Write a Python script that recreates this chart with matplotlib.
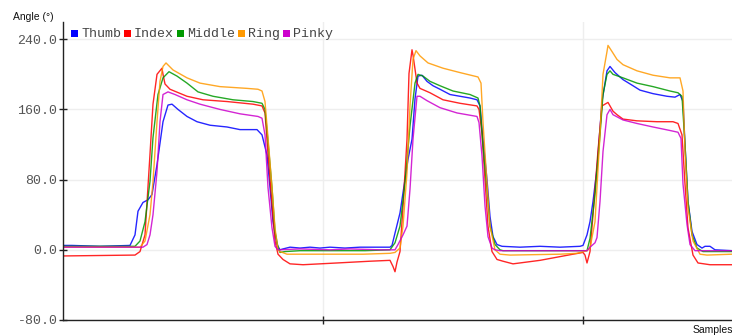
import matplotlib
matplotlib.use("Agg")
import matplotlib.pyplot as plt
from matplotlib.patches import Rectangle

# Finger bend angles (sample index, angle in degrees)
names = ["Thumb", "Index", "Middle", "Ring", "Pinky"]
colors = ["#0000ff", "#ff0000", "#009900", "#ff9900", "#cc00cc"]

thumb_x = [0, 9, 37, 67, 72, 75, 80, 85, 89, 94, 100, 105, 109, 115, 124, 134, 147, 164, 177, 194,
           199, 204, 207, 210, 214, 217, 220, 227, 237, 247, 257, 267, 282, 297, 312, 327,
           329, 332, 337, 340, 345, 349, 352, 355, 359, 364, 370, 377, 387, 397, 407, 414,
           417, 420, 424, 427, 430, 434, 439, 457, 477, 497, 517, 520, 524, 527, 530, 534,
           539, 544, 547, 552, 560, 570, 577, 590, 604, 612, 617, 620, 622, 625, 629, 634,
           639, 642, 647, 652, 669]
thumb_y = [5, 5, 4, 5, 17, 44, 54, 57, 63, 97, 146, 165, 166, 160, 152, 146, 142, 140, 137, 137,
           131, 108, 71, 32, 6, 0, 1, 3, 2, 3, 2, 3, 2, 3, 3, 3,
           5, 19, 42, 65, 103, 126, 172, 198, 199, 192, 187, 183, 177, 175, 173, 171,
           164, 126, 80, 38, 15, 6, 4, 3, 4, 3, 4, 5, 17, 32, 55, 93,
           169, 204, 209, 202, 194, 187, 182, 178, 175, 174, 177, 169, 120, 55, 21, 6,
           2, 4, 4, 0, -1]

index_x = [0, 72, 77, 82, 87, 90, 94, 99, 100, 102, 107, 124, 140, 164, 190, 199, 202, 205, 209,
           212, 215, 220, 227, 240, 274, 307, 327, 330, 332, 334, 337, 340, 344, 346, 349,
           350, 354, 357, 367, 380, 397, 414, 416, 419, 422, 425, 429, 434, 440, 450, 477,
           510, 520, 522, 524, 527, 530, 535, 539, 545, 550, 554, 560, 574, 594, 610, 615,
           619, 622, 625, 630, 635, 647, 669]
index_y = [-7, -6, -2, 17, 109, 166, 200, 207, 200, 189, 183, 175, 171, 169, 166, 164, 156, 109, 52,
           10, -5, -11, -16, -17, -15, -13, -12, -19, -25, -14, -2, 49, 126, 201, 228,
           222, 190, 184, 179, 171, 167, 164, 160, 133, 80, 27, -2, -11, -13, -16, -12,
           -5, -3, -6, -15, -2, 40, 113, 164, 168, 158, 154, 149, 147, 146, 146, 144,
           131, 75, 25, -6, -15, -17, -17]

middle_x = [0, 72, 77, 82, 87, 90, 95, 100, 106, 114, 124, 135, 150, 170, 190, 199, 202, 205, 209,
            212, 215, 217, 222, 237, 302, 327, 332, 337, 342, 347, 352, 355, 360, 367, 377,
            390, 407, 415, 417, 420, 424, 427, 432, 437, 440, 517, 524, 527, 532, 537, 540,
            544, 547, 550, 560, 574, 590, 607, 615, 619, 622, 625, 629, 634, 640, 669]
middle_y = [4, 4, 10, 32, 78, 128, 177, 196, 203, 198, 190, 180, 175, 171, 169, 167, 160, 124, 71,
            21, 3, -3, -2, -1, -1, 0, 8, 27, 76, 141, 190, 200, 198, 192, 187,
            181, 177, 173, 164, 118, 69, 27, 6, 0, -1, -1, -1, 13, 63, 131, 177,
            200, 204, 200, 196, 190, 186, 181, 179, 175, 120, 55, 17, 2, -2, -2]

ring_x = [0, 77, 82, 87, 90, 94, 97, 100, 103, 110, 124, 137, 157, 184, 195, 199, 202, 205, 209,
          212, 215, 217, 224, 300, 327, 332, 337, 340, 344, 347, 350, 353, 357, 365, 380,
          397, 415, 418, 420, 424, 427, 432, 437, 447, 497, 514, 524, 527, 532, 537, 540,
          544, 545, 549, 554, 560, 574, 590, 607, 617, 620, 622, 625, 630, 637, 644, 669]
ring_y = [3, 3, 10, 40, 78, 146, 192, 209, 213, 205, 196, 190, 186, 184, 183, 181, 169, 128, 71,
          25, 0, -2, -5, -5, -4, -3, 2, 27, 88, 164, 217, 227, 221, 213, 207,
          202, 197, 190, 145, 76, 27, 0, -5, -6, -5, -4, -1, 2, 32, 131, 200,
          226, 233, 226, 217, 211, 204, 199, 196, 196, 181, 112, 48, 10, -5, -6, -5]

pinky_x = [0, 80, 84, 87, 90, 94, 97, 100, 105, 112, 124, 137, 157, 177, 195, 199, 202, 205, 209,
           212, 215, 237, 267, 287, 317, 332, 335, 340, 344, 347, 350, 354, 357, 364, 377,
           394, 414, 416, 419, 422, 425, 429, 432, 437, 477, 524, 527, 532, 534, 537, 540,
           544, 547, 550, 560, 574, 590, 607, 615, 618, 620, 624, 627, 632, 669]
pinky_y = [3, 3, 6, 17, 40, 89, 146, 177, 180, 177, 171, 166, 160, 155, 152, 150, 131, 71, 25,
           4, 0, 1, 0, 1, 0, 0, 6, 17, 27, 69, 126, 175, 175, 170, 162,
           156, 152, 145, 107, 50, 15, 2, 0, -1, -1, -1, 3, 8, 14, 55, 112,
           154, 160, 154, 148, 144, 140, 136, 134, 127, 75, 29, 6, -1, -1]

series_x = [thumb_x, index_x, middle_x, ring_x, pinky_x]
series_y = [thumb_y, index_y, middle_y, ring_y, pinky_y]

y_ticks = [-80, 0, 80, 160, 240]
x_ticks = [260, 520]

W, H = 732, 335
fig = plt.figure(figsize=(W / 100, H / 100), dpi=100)
ax = fig.add_axes([63 / W, 15 / H, (W - 63) / W, 298.3 / H])

for xs, ys, c in zip(series_x, series_y, colors):
    ax.plot(xs, ys, color=c, lw=1.0, alpha=0.85, solid_joinstyle="round")

ax.set_xlim(0, 669)
ax.set_ylim(-80, 260)
ax.set_yticks(y_ticks)
ax.set_yticklabels(["%.1f" % v for v in y_ticks], family="Liberation Mono",
                   fontsize=9.5, color="#555555")
ax.set_xticks(x_ticks)
ax.set_xticklabels([])
ax.tick_params(axis="both", direction="inout", length=6, width=1, color="#222222", pad=1)
ax.grid(True, color="#eeeeee", lw=1)
ax.set_axisbelow(True)
for s in ["top", "right"]:
    ax.spines[s].set_visible(False)
for s in ["left", "bottom"]:
    ax.spines[s].set_color("#222222")
    ax.spines[s].set_linewidth(1)

# axis captions
fig.text(13 / W, 1 - 17 / H, "Angle (°)", family="Liberation Sans", fontsize=7.5,
         va="center", ha="left", color="#111111")
fig.text(693 / W, 1 - 330 / H, "Samples", family="Liberation Sans", fontsize=7.5,
         va="center", ha="left", color="#111111")

# legend row along the top
sq_x = [71, 124, 177, 238, 283]
for name, c, sx in zip(names, colors, sq_x):
    fig.add_artist(Rectangle((sx / W, 1 - 37 / H), 7 / W, 7 / H, transform=fig.transFigure,
                             facecolor=c, edgecolor="none"))
    fig.text((sx + 10) / W, 1 - 34 / H, name, family="Liberation Mono", fontsize=9.5,
             va="center", ha="left", color="#444444")

fig.savefig("out.png", dpi=100)
